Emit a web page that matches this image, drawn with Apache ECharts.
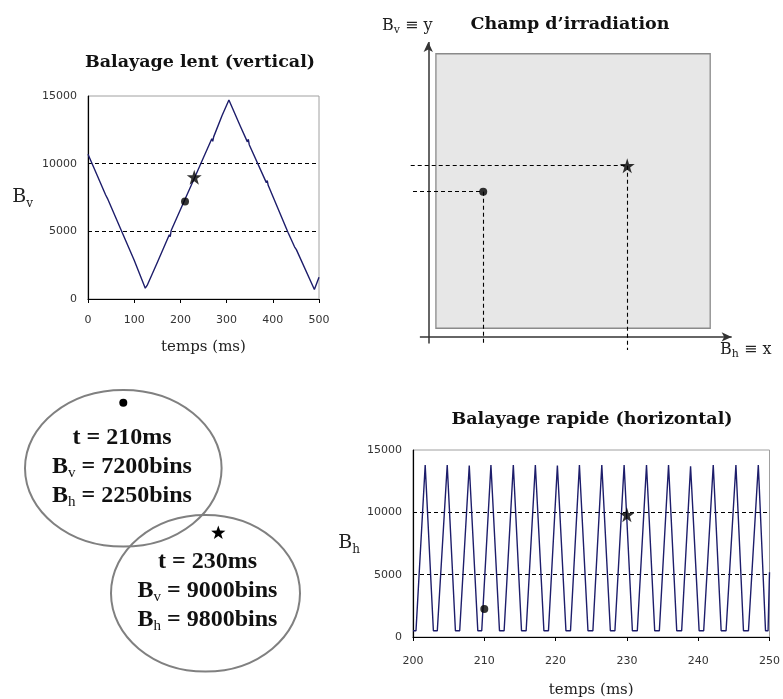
<!DOCTYPE html>
<html>
<head>
<meta charset="utf-8">
<script src="https://cdn.jsdelivr.net/npm/echarts@6/dist/echarts.min.js"></script>
<style>
  html, body { margin: 0; padding: 0; background: #fff; }
  #c { width: 783px; height: 699px; }
</style>
</head>
<body>
<div id="c"></div>
<script>
// Slow (vertical) scan: time in ms and B_v in bins
const slowT  = [0, 20, 38, 40, 42, 70, 100, 124, 128, 150, 176, 178, 180, 210, 230, 250, 268, 270, 272, 290, 305,
                330, 345, 347, 349, 386, 388, 390, 433, 447, 449, 451, 490, 494, 500];
const slowBv = [10700, 9120, 7700, 7800, 7440, 5230, 2860, 800, 1000, 2700, 4750, 4600, 5060, 7370, 8910, 10450, 11840, 11650, 11980, 13540, 14700,
                12750, 11610, 11800, 11400, 8600, 8750, 8400, 4920, 3860, 4000, 3650, 700, 650, 1600];

// Fast (horizontal) scan: vertices of the trace between 200 and 250 ms
const fastT  = [200.00, 200.42, 201.71, 202.86, 203.41, 204.80, 205.95, 206.55, 207.89, 209.09, 209.64, 210.93,
                212.13, 212.78, 214.07, 215.22, 215.87, 217.16, 218.36, 219.00, 220.25, 221.45, 222.09, 223.34,
                224.54, 225.23, 226.48, 227.68, 228.32, 229.61, 230.77, 231.46, 232.75, 233.90, 234.55, 235.84,
                236.99, 237.68, 238.93, 240.13, 240.77, 242.11, 243.22, 243.91, 245.29, 246.35, 247.05, 248.43,
                249.44, 249.80, 250.00];
const fastBh = [500, 500, 13800, 500, 500, 13800, 500, 500, 13750, 500, 500, 13800,
                500, 500, 13800, 500, 500, 13800, 500, 500, 13750, 500, 500, 13800,
                500, 500, 13800, 500, 500, 13800, 500, 500, 13800, 500, 500, 13800,
                500, 500, 13700, 500, 500, 13800, 500, 500, 13800, 500, 500, 13800,
                500, 500, 5200];

// The two highlighted instants
const markT  = [210, 230];
const markBv = [7200, 9000];
const markBh = [2250, 9800];

// Tick values
const slowTicksX = [0, 100, 200, 300, 400, 500];
const fastTicksX = [200, 210, 220, 230, 240, 250];
const binTicksY  = [0, 5000, 10000, 15000];

const SERIF = '"DejaVu Serif", serif';
const TIMES = '"Liberation Serif", "Times New Roman", serif';
const SANS  = '"DejaVu Sans", sans-serif';
const STAR  = 'path://M50,2 L61,36 L97,36 L68,57 L79,92 L50,71 L21,92 L32,57 L3,36 L39,36 Z';
const TRACE = '#1d1d6b';

const markSymbol = i => (i === 0 ? { symbol: 'circle', symbolSize: 8 } : { symbol: STAR, symbolSize: 15 });
const zip = (a, b) => a.map((v, i) => [v, b[i]]);

const tickLabel = { fontFamily: SANS, fontSize: 11, color: '#333', formatter: v => String(v) };
const dashed = { type: [4, 3], color: '#000', width: 1 };

function valueAxisX(ticks, grid, margin) {
  return {
    type: 'value', gridIndex: grid,
    min: ticks[0], max: ticks[ticks.length - 1], interval: ticks[1] - ticks[0],
    axisLine: { show: true, lineStyle: { color: '#000', width: 1.2 } },
    axisTick: { show: true, length: 4, lineStyle: { color: '#000' } },
    splitLine: { show: false },
    axisLabel: Object.assign({ margin: margin }, tickLabel),
    name: 'temps (ms)', nameLocation: 'middle',
    nameTextStyle: { fontFamily: SERIF, fontSize: 15, color: '#222' }
  };
}
function valueAxisY(grid, sub, gap) {
  return {
    type: 'value', gridIndex: grid,
    min: binTicksY[0], max: binTicksY[binTicksY.length - 1], interval: binTicksY[1] - binTicksY[0],
    axisLine: { show: true, lineStyle: { color: '#000', width: 1.2 } },
    axisTick: { show: false },
    splitLine: { show: true, showMinLine: false, showMaxLine: false, lineStyle: dashed },
    axisLabel: Object.assign({ margin: 11 }, tickLabel),
    name: '{m|B}{s|' + sub + '}', nameLocation: 'middle', nameRotate: 0, nameGap: gap,
    nameTextStyle: {
      rich: {
        m: { fontFamily: SERIF, fontSize: 19, color: '#222', lineHeight: 24 },
        s: { fontFamily: SERIF, fontSize: 12, color: '#222', lineHeight: 12, verticalAlign: 'bottom' }
      }
    }
  };
}

// Field diagram scale (bins); the grey square is the irradiation field
const field = { xMin: -1850, xMax: 15450, yMin: -4100, yMax: 17700 };

const starPts = (cx, cy, R, r) => {
  const pts = [];
  for (let k = 0; k < 10; k++) {
    const a = -Math.PI / 2 + k * Math.PI / 5;
    const rad = k % 2 === 0 ? R : r;
    pts.push([cx + rad * Math.cos(a), cy + rad * Math.sin(a)]);
  }
  return pts;
};

function infoText(lines, cx, cy0, step) {
  const rich = {
    m: { fontFamily: TIMES, fontWeight: 'bold', fontSize: 24, fill: '#111', color: '#111', lineHeight: 28 },
    s: { fontFamily: TIMES, fontSize: 15, fill: '#111', color: '#111', lineHeight: 15, verticalAlign: 'bottom' }
  };
  return lines.map((txt, k) => ({
    type: 'text', x: cx, y: cy0 + k * step,
    style: { text: txt, rich: rich, align: 'center', verticalAlign: 'middle',
             textAlign: 'center', textVerticalAlign: 'middle' }
  }));
}

const labelText = (txt, x, y) => ({
  type: 'text', x: x, y: y,
  style: {
    text: txt, align: 'left', verticalAlign: 'middle', textAlign: 'left', textVerticalAlign: 'middle',
    rich: {
      m: { fontFamily: SERIF, fontSize: 16, fill: '#222', color: '#222', lineHeight: 20 },
      s: { fontFamily: SERIF, fontSize: 11, fill: '#222', color: '#222', lineHeight: 11, verticalAlign: 'bottom' }
    }
  }
});

const chart = echarts.init(document.getElementById('c'));

const titleStyle = { fontFamily: SERIF, fontWeight: 'bold', fontSize: 17.5, color: '#111' };

chart.setOption({
  animation: false,
  backgroundColor: '#fff',
  title: [
    { text: 'Balayage lent (vertical)', left: 200, top: 53, textAlign: 'center', padding: 0, textStyle: titleStyle },
    { text: 'Champ d\u2019irradiation', left: 570, top: 15, textAlign: 'center', padding: 0, textStyle: titleStyle },
    { text: 'Balayage rapide (horizontal)', left: 592, top: 410, textAlign: 'center', padding: 0, textStyle: titleStyle }
  ],
  grid: [
    { left: 88, top: 96, width: 231, height: 203, show: true, borderColor: '#a0a0a0', borderWidth: 1, backgroundColor: 'transparent' },
    { left: 413, top: 450, width: 361, height: 188, show: true, borderColor: '#a0a0a0', borderWidth: 1, backgroundColor: 'transparent' },
    { left: 405, top: 40, width: 330, height: 315, show: false }
  ],
  xAxis: [
    Object.assign(valueAxisX(slowTicksX, 0, 16), { nameGap: 41 }),
    Object.assign(valueAxisX(fastTicksX, 1, 19), { nameGap: 46 }),
    { type: 'value', gridIndex: 2, show: false, min: field.xMin, max: field.xMax }
  ],
  yAxis: [
    valueAxisY(0, 'v', 55),
    valueAxisY(1, 'h', 53),
    { type: 'value', gridIndex: 2, show: false, min: field.yMin, max: field.yMax }
  ],
  series: [
    {
      type: 'line', xAxisIndex: 0, yAxisIndex: 0, data: zip(slowT, slowBv),
      symbol: 'none', lineStyle: { color: TRACE, width: 1.4 }, z: 3
    },
    {
      type: 'scatter', xAxisIndex: 0, yAxisIndex: 0, z: 5,
      data: markT.map((t, i) => Object.assign({ value: [t, markBv[i]] }, markSymbol(i))),
      itemStyle: { color: '#000' }
    },
    {
      type: 'line', xAxisIndex: 1, yAxisIndex: 1, data: zip(fastT, fastBh),
      symbol: 'none', lineStyle: { color: TRACE, width: 1.4 }, z: 3
    },
    {
      type: 'scatter', xAxisIndex: 1, yAxisIndex: 1, z: 5,
      data: markT.map((t, i) => Object.assign({ value: [t, markBh[i]] }, markSymbol(i))),
      itemStyle: { color: '#000' }
    },
    {
      type: 'scatter', xAxisIndex: 2, yAxisIndex: 2, z: 5, clip: false,
      data: markBh.map((bh, i) => Object.assign({ value: [bh, markBv[i]] }, markSymbol(i))),
      itemStyle: { color: '#000' },
      markArea: {
        silent: true,
        itemStyle: { color: '#e7e7e7', borderColor: '#8a8a8a', borderWidth: 1.3 },
        data: [[{ coord: [-230, -2250] }, { coord: [14150, 16750] }]]
      },
      markLine: {
        silent: true, symbol: ['none', 'none'], label: { show: false },
        lineStyle: { type: [4, 3], color: '#000', width: 1.1 },
        data: [
          // axes of the field diagram
          [{ coord: [-1070, -2850], lineStyle: { type: 'solid', color: '#333', width: 1.5 } },
           { coord: [15275, -2850], symbol: 'arrow', symbolSize: [7, 10] }],
          [{ coord: [-630, -3300], lineStyle: { type: 'solid', color: '#333', width: 1.5 } },
           { coord: [-630, 17570], symbol: 'arrow', symbolSize: [7, 10] }],
          // projections of the two instants
          [{ coord: [-1430, markBv[0]] }, { coord: [markBh[0], markBv[0]] }],
          [{ coord: [markBh[0], markBv[0]] }, { coord: [markBh[0], -3300] }],
          [{ coord: [-1550, markBv[1]] }, { coord: [markBh[1], markBv[1]] }],
          [{ coord: [markBh[1], markBv[1]] }, { coord: [markBh[1], -3760] }]
        ]
      }
    }
  ],
  graphic: [
    labelText('{m|B}{s|v}{m| \u2261 y}', 382, 26),
    labelText('{m|B}{s|h}{m| \u2261 x}', 720, 350),
    { type: 'ellipse', shape: { cx: 123.3, cy: 468.3, rx: 98.3, ry: 78.3 },
      style: { fill: 'none', stroke: '#808080', lineWidth: 2 } },
    { type: 'ellipse', shape: { cx: 205.5, cy: 593.3, rx: 94.5, ry: 78.3 },
      style: { fill: 'none', stroke: '#808080', lineWidth: 2 } },
    { type: 'circle', shape: { cx: 123.3, cy: 402.7, r: 4 }, style: { fill: '#000' } },
    { type: 'polygon', shape: { points: starPts(218.3, 533, 7.5, 3) }, style: { fill: '#000' } }
  ].concat(
    infoText(['{m|t = ' + markT[0] + 'ms}', '{m|B}{s|v}{m| = ' + markBv[0] + 'bins}', '{m|B}{s|h}{m| = ' + markBh[0] + 'bins}'], 122, 437.5, 29),
    infoText(['{m|t = ' + markT[1] + 'ms}', '{m|B}{s|v}{m| = ' + markBv[1] + 'bins}', '{m|B}{s|h}{m| = ' + markBh[1] + 'bins}'], 207.5, 561.5, 29)
  )
});
</script>
</body>
</html>
